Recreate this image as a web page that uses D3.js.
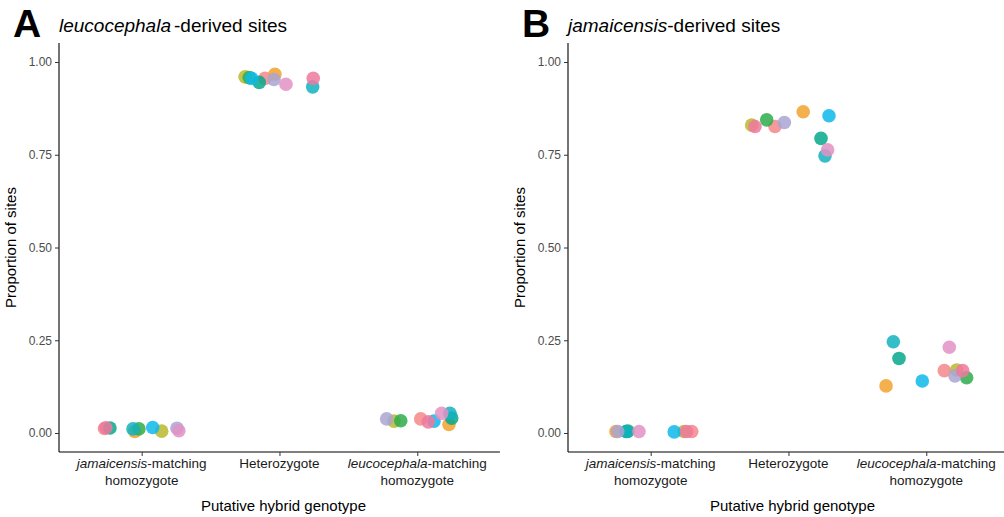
<!DOCTYPE html>
<html>
<head>
<meta charset="utf-8">
<script src="https://cdn.jsdelivr.net/npm/d3@7"></script>
<style>
  html, body { margin: 0; padding: 0; background: #fff; }
  svg { display: block; font-family: "Liberation Sans", Arial, sans-serif; }
</style>
</head>
<body>
<svg id="chart" width="1004" height="517"></svg>
<script>
// ---- data ----
const categories = ["jam", "het", "leu"];
const yTicks = [0, 0.25, 0.5, 0.75, 1.0];
const yTickLabels = ["0.00", "0.25", "0.50", "0.75", "1.00"];
const individuals = ["salmon", "orange", "olive", "green", "teal", "turquoise", "cyan", "lavender", "orchid", "hotpink"];
const individualColors = ["#F4878A", "#F2A22E", "#B8B92E", "#2EAD4B", "#06A88C", "#12B2C1", "#0DB8EA", "#A9A4D3", "#E292C4", "#F0789F"];

// Panel A: leucocephala-derived sites (value per individual, horizontal jitter in category units)
const A_jam_values = [0.012, 0.004, 0.005, 0.011, 0.0135, 0.011, 0.015, 0.013, 0.006, 0.014];
const A_jam_jitter = [-0.27, -0.05, 0.145, -0.02, -0.23, -0.063, 0.08, 0.256, 0.27, -0.26];
const A_het_values = [0.956, 0.967, 0.960, 0.958, 0.945, 0.933, 0.956, 0.953, 0.940, 0.956];
const A_het_jitter = [-0.105, -0.033, -0.25, -0.219, -0.147, 0.241, -0.202, -0.04, 0.047, 0.245];
const A_leu_values = [0.038, 0.023, 0.032, 0.033, 0.040, 0.053, 0.032, 0.038, 0.053, 0.030];
const A_leu_jitter = [0.025, 0.23, -0.169, -0.12, 0.25, 0.237, 0.121, -0.222, 0.177, 0.08];

// Panel B: jamaicensis-derived sites
const B_jam_values = [0.004, 0.004, 0.004, 0.005, 0.004, 0.004, 0.003, 0.004, 0.004, 0.004];
const B_jam_jitter = [0.298, -0.252, 0.242, -0.165, -0.179, -0.17, 0.171, -0.239, -0.085, 0.261];
const B_het_values = [0.826, 0.866, 0.830, 0.844, 0.794, 0.747, 0.855, 0.837, 0.763, 0.826];
const B_het_jitter = [-0.098, 0.107, -0.267, -0.158, 0.236, 0.265, 0.294, -0.03, 0.284, -0.243];
const B_leu_values = [0.168, 0.127, 0.170, 0.149, 0.201, 0.246, 0.140, 0.154, 0.231, 0.168];
const B_leu_jitter = [0.131, -0.292, 0.221, 0.293, -0.198, -0.239, -0.029, 0.208, 0.167, 0.264];

// ---- drawing ----
const svg = d3.select("#chart");
const color = d3.scaleOrdinal().domain(individuals).range(individualColors);

const panels = [
  { letter: "A", italic: "leucocephala", rest: "-derived sites", gap: 3, left: 59,
    series: [[A_jam_values, A_jam_jitter], [A_het_values, A_het_jitter], [A_leu_values, A_leu_jitter]] },
  { letter: "B", italic: "jamaicensis", rest: "-derived sites", gap: 0, left: 568,
    series: [[B_jam_values, B_jam_jitter], [B_het_values, B_het_jitter], [B_leu_values, B_leu_jitter]] }
];

const plotTop = 43, plotBottom = 452;
const y = d3.scaleLinear().domain([-0.0512, 1.0512]).range([plotBottom, plotTop]);
const unit = 137.8;

panels.forEach(p => {
  const x = d3.scaleLinear().domain([0.4, 3.6]).range([p.left, p.left + 3.2 * unit]);
  const g = svg.append("g");

  // points
  const pts = [];
  p.series.forEach((s, ci) => {
    s[0].forEach((v, i) => pts.push({ cat: ci + 1, v: v, j: s[1][i], ind: individuals[i] }));
  });
  g.selectAll("circle").data(pts).enter().append("circle")
    .attr("cx", d => x(d.cat + d.j))
    .attr("cy", d => y(d.v))
    .attr("r", 6.8)
    .attr("fill", d => color(d.ind))
    .attr("fill-opacity", 0.85);

  // y axis
  const yAxis = d3.axisLeft(y).tickValues(yTicks).tickFormat((d, i) => yTickLabels[i]).tickSize(4).tickPadding(3);
  const ya = g.append("g").attr("transform", `translate(${p.left},0)`).call(yAxis);
  ya.select(".domain").attr("d", `M0,${plotTop}V${plotBottom}`).attr("stroke", "#000").attr("stroke-width", 1.1);
  ya.selectAll(".tick line").attr("stroke", "#333");
  ya.selectAll(".tick text").attr("fill", "#4D4D4D").style("font-size", "12px").style("font-family", "Liberation Sans, Arial, sans-serif");

  // x axis
  const xAxis = d3.axisBottom(x).tickValues([1, 2, 3]).tickFormat("").tickSize(4);
  const xa = g.append("g").attr("transform", `translate(0,${plotBottom})`).call(xAxis);
  xa.select(".domain").attr("d", `M${p.left},0H${p.left + 3.2 * unit}`).attr("stroke", "#000").attr("stroke-width", 1.1);
  xa.selectAll(".tick line").attr("stroke", "#333");

  // x tick labels (two lines, with italic species names)
  const lab = g.append("g").style("font-size", "13.5px").attr("fill", "#1a1a1a").attr("text-anchor", "middle");
  const t1 = lab.append("text").attr("x", x(1)).attr("y", 468);
  t1.append("tspan").style("font-style", "italic").text("jamaicensis");
  t1.append("tspan").text("-matching");
  lab.append("text").attr("x", x(1)).attr("y", 485).text("homozygote");
  lab.append("text").attr("x", x(2)).attr("y", 468).text("Heterozygote");
  const t3 = lab.append("text").attr("x", x(3)).attr("y", 468);
  t3.append("tspan").style("font-style", "italic").text("leucocephala");
  t3.append("tspan").text("-matching");
  lab.append("text").attr("x", x(3)).attr("y", 485).text("homozygote");

  // axis titles
  g.append("text").attr("x", x(2) + 4).attr("y", 511).attr("text-anchor", "middle")
    .style("font-size", "15px").attr("fill", "#000").text("Putative hybrid  genotype");
  g.append("text").attr("transform", `translate(${p.left - 43},${y(0.5)}) rotate(-90)`)
    .attr("text-anchor", "middle").style("font-size", "15px").attr("fill", "#000").text("Proportion of sites");

  // panel letter and title
  g.append("text").attr("x", p.left - 46).attr("y", 37).style("font-size", "39px").style("font-weight", "bold")
    .attr("fill", "#000").text(p.letter);
  const tt = g.append("text").attr("x", p.left).attr("y", 32).style("font-size", "19px").attr("fill", "#000");
  tt.append("tspan").style("font-style", "italic").text(p.italic);
  tt.append("tspan").attr("dx", p.gap).text(p.rest);
});
</script>
</body>
</html>
